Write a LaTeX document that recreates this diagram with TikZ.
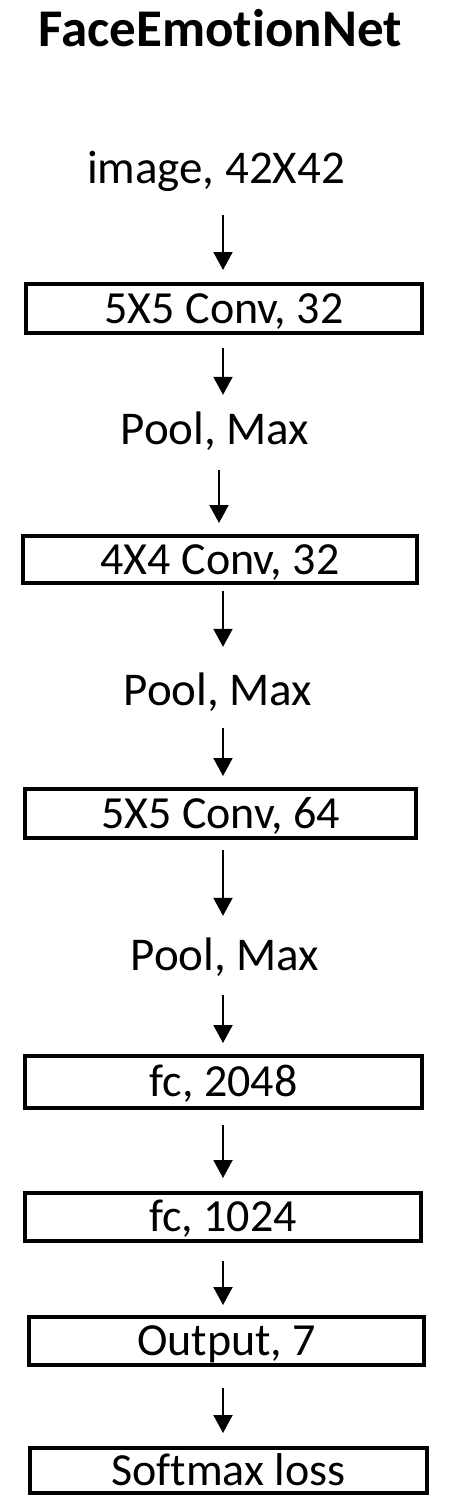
\documentclass[tikz,border=0pt]{standalone}
\usepackage{fontspec}
\setmainfont{Carlito}[Ligatures={NoCommon,NoContextual},Contextuals={NoAlternate}]
\usetikzlibrary{arrows.meta}
\begin{document}
\begin{tikzpicture}[x=1pt,y=-1pt,
  lbl/.style={font=\fontsize{47}{56}\selectfont, inner sep=0pt, text height=29pt, text depth=10pt, anchor=base},
  layer/.style={draw, line width=4pt, inner sep=0pt, font=\fontsize{46}{55}\selectfont, text height=29pt, text depth=0pt},
  arr/.style={line width=2pt, -{Triangle[width=19pt,length=18pt]}}]
\useasboundingbox (0,0) rectangle (452,1500);
\node[font=\bfseries\fontsize{53}{60}\selectfont, inner sep=0pt, anchor=base] (title) at (220,46) {FaceEmo{}tionNet};
\node[lbl] (img) at (216,183) {image, 42X42};
\node[layer, minimum width=396pt, minimum height=49pt] (b1) at (224,308.5) {5X5 Conv, 32};
\node[lbl] (p1) at (215,444) {Pool, Max};
\node[layer, minimum width=394pt, minimum height=47pt] (b2) at (220,559.5) {4X4 Conv, 32};
\node[lbl] (p2) at (218,705) {Pool, Max};
\node[layer, minimum width=391pt, minimum height=49pt] (b3) at (220.5,813.5) {5X5 Conv, 64};
\node[lbl] (p3) at (225,970) {Pool, Max};
\node[layer, minimum width=397pt, minimum height=52pt] (b4) at (223.5,1082) {fc, 2048};
\node[layer, minimum width=396pt, minimum height=48pt] (b5) at (223,1217) {fc, 1024};
\node[layer, minimum width=395pt, minimum height=48pt] (b6) at (226.5,1341) {Output, 7};
\node[layer, minimum width=397pt, minimum height=45pt] (b7) at (228.5,1470.5) {Softmax loss};
\coordinate (ax) at (223,0);
\coordinate (axb) at (219,0);
\draw[arr] ([yshift=-22pt]img.south -| ax) -- ([yshift=12pt]b1.north -| ax);
\draw[arr] ([yshift=-13pt]b1.south -| ax) -- ([yshift=20pt]p1.north -| ax);
\draw[arr] ([yshift=-16pt]p1.south -| axb) -- ([yshift=11pt]b2.north -| axb);
\draw[arr] ([yshift=-6pt]b2.south -| ax) -- ([yshift=29pt]p2.north -| ax);
\draw[arr] ([yshift=-13pt]p2.south -| ax) -- ([yshift=11pt]b3.north -| ax);
\draw[arr] ([yshift=-10pt]b3.south -| ax) -- ([yshift=25pt]p3.north -| ax);
\draw[arr] ([yshift=-15pt]p3.south -| ax) -- ([yshift=11pt]b4.north -| ax);
\draw[arr] ([yshift=-15pt]b4.south -| ax) -- ([yshift=13pt]b5.north -| ax);
\draw[arr] ([yshift=-18pt]b5.south -| ax) -- ([yshift=10pt]b6.north -| ax);
\draw[arr] ([yshift=-21pt]b6.south -| ax) -- ([yshift=13pt]b7.north -| ax);
\end{tikzpicture}
\end{document}
